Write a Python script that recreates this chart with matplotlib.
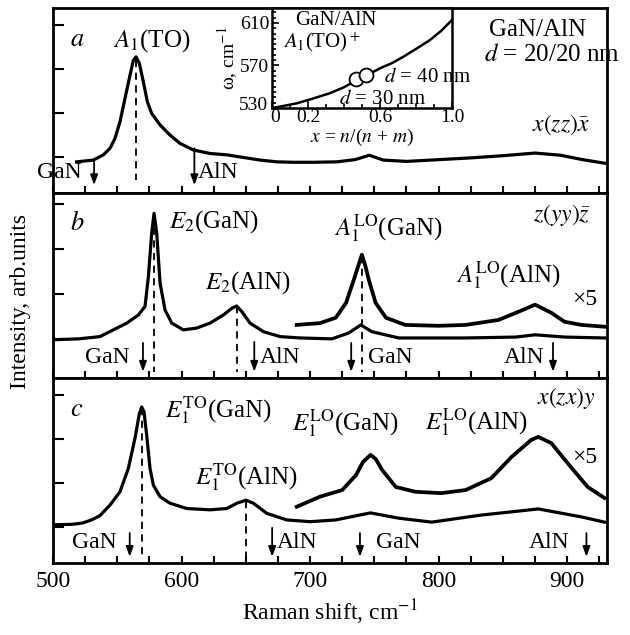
import matplotlib
matplotlib.use("Agg")
import matplotlib.pyplot as plt
from matplotlib.ticker import MultipleLocator, FixedLocator, NullFormatter
from matplotlib.transforms import ScaledTranslation

plt.rcParams["font.family"] = ["Liberation Serif", "DejaVu Serif"]
plt.rcParams["mathtext.fontset"] = "stix"

# ---- data (Raman shift, cm-1 / intensity, arb. units) ----
a_shift = [518.4, 531.4, 539.2, 544.4, 548.2, 552.1, 556, 559.9, 562.5, 564.6,
           567.2, 570.3, 573.4, 576.8, 583.3, 591, 598.8, 609.2, 622.2, 635.2,
           648.1, 661.1, 674.1, 687, 702.6, 720.8, 735, 746, 757, 775,
           800, 825, 850, 875, 895, 912, 929]
a_int = [-0.11, -0.07, 0.05, 0.20, 0.42, 0.80, 1.33, 1.86, 2.20, 2.28,
         2.13, 1.71, 1.26, 0.99, 0.73, 0.50, 0.31, 0.16, 0.08, 0.05,
         -0.01, -0.07, -0.11, -0.12, -0.12, -0.11, -0.06, 0.04, -0.07, -0.10,
         -0.06, -0.02, 0.03, 0.09, 0.04, -0.06, -0.14]

b_shift = [500, 520, 536.6, 546.9, 557.4, 566.4, 571.6, 574.2, 576.8, 578.6,
           580.7, 583.3, 587.2, 592.4, 601.4, 611.8, 622.2, 632.5, 639.1, 642.9,
           646.8, 653.3, 663.7, 676.7, 692.2, 717, 730, 739.5, 748, 769,
           821, 860, 875, 898, 929]
b_int = [-0.02, 0.00, 0.05, 0.20, 0.35, 0.53, 0.72, 1.38, 2.35, 2.79,
         2.35, 1.24, 0.64, 0.35, 0.20, 0.24, 0.35, 0.53, 0.68, 0.73,
         0.61, 0.35, 0.16, 0.05, 0.02, 0.00, 0.13, 0.31, 0.16, 0.02,
         0.02, 0.04, 0.09, 0.04, 0.02]

b5_shift = [689.6, 707.8, 720, 728, 734, 737.5, 740.3, 743, 745.7, 751,
            759, 774, 800, 821, 846.5, 862, 875, 887.6, 898, 911, 929]
b5_int = [0.31, 0.35, 0.47, 0.80, 1.31, 1.62, 1.87, 1.62, 1.31, 0.80,
          0.47, 0.31, 0.29, 0.31, 0.42, 0.60, 0.76, 0.58, 0.38, 0.31, 0.27]

c_shift = [501.5, 515, 523, 530, 536.6, 544.4, 552.1, 558.6, 563.8, 567.2,
           569, 570.8, 572.9, 575.5, 578.1, 583.3, 591, 604, 622.2, 635.2,
           643, 650.2, 655.9, 666.3, 681.9, 700, 720, 735, 747, 769,
           794.6, 833, 877.5, 911, 929]
c_int = [0.05, 0.06, 0.09, 0.16, 0.26, 0.50, 0.80, 1.33, 2.02, 2.58,
         2.73, 2.62, 2.09, 1.33, 0.95, 0.69, 0.54, 0.42, 0.39, 0.42,
         0.54, 0.61, 0.54, 0.31, 0.16, 0.12, 0.16, 0.25, 0.32, 0.20,
         0.11, 0.27, 0.41, 0.23, 0.11]

c5_shift = [689.6, 707.8, 725, 735.7, 741.2, 747, 751, 756, 766.7, 782,
            802, 821, 841, 856.6, 872, 877.5, 887.6, 903, 916, 929]
c5_int = [0.46, 0.69, 0.84, 1.18, 1.48, 1.64, 1.55, 1.30, 0.91, 0.80,
          0.77, 0.84, 1.11, 1.59, 1.98, 2.05, 1.91, 1.36, 0.91, 0.66]

# inset: A1(TO)+ frequency vs x = n/(n+m)
ins_x = [0.0, 0.05, 0.138, 0.22, 0.32, 0.40, 0.47, 0.53, 0.60, 0.67,
         0.73, 0.80, 0.878, 0.94, 1.0]
ins_w = [530, 531.5, 534.4, 538.5, 543.8, 549.5, 556.3, 561.0, 567.3, 572.5,
         578.2, 585.5, 593.9, 602.5, 612.7]
pts_x = [0.467, 0.522]
pts_w = [557.3, 561.0]

FS = 17
LW = 2.3


def style_panel(ax, ylim, labels=False):
    ax.set_xlim(500, 931)
    ax.set_ylim(*ylim)
    ax.xaxis.set_major_locator(MultipleLocator(100))
    ax.xaxis.set_minor_locator(MultipleLocator(25))
    ax.yaxis.set_major_locator(FixedLocator([0, 1, 2, 3]))
    ax.tick_params(axis="x", which="both", direction="in", length=5, width=1.5,
                   top=False, labelsize=FS, pad=6)
    ax.tick_params(axis="y", direction="in", length=8, width=1.5, right=False,
                   labelleft=False)
    if not labels:
        ax.xaxis.set_major_formatter(NullFormatter())
    for sp in ax.spines.values():
        sp.set_linewidth(2)


def dash(ax, x, y0, y1):
    ax.plot([x, x], [y0, y1], color="k", lw=1.3, ls=(0, (4, 3)))


def arrow(ax, x, y0, y1):
    ax.annotate("", xy=(x, y1), xytext=(x, y0),
                arrowprops=dict(arrowstyle="-|>,head_length=0.6,head_width=0.22",
                                color="k", lw=1.3, shrinkA=0, shrinkB=0))


fig = plt.figure(figsize=(6.3, 6.35), dpi=100)
L, W, H = 0.0841, 0.8794, 0.2913
ax_a = fig.add_axes([L, 0.696, W, H])
ax_b = fig.add_axes([L, 0.4047, W, H])
ax_c = fig.add_axes([L, 0.1134, W, H])

# ---- panel a ----
style_panel(ax_a, (-0.82, 3.39))
ax_a.plot(a_shift, a_int, color="k", lw=LW, solid_joinstyle="round")
dash(ax_a, 564.6, 2.2, -0.52)
arrow(ax_a, 532, -0.11, -0.64)
arrow(ax_a, 610, 0.20, -0.64)
ax_a.text(505, -0.36, "GaN", fontsize=FS, ha="center", va="center")
ax_a.text(613, -0.36, "AlN", fontsize=FS, ha="left", va="center")
ax_a.text(518.6, 2.66, "$a$", fontsize=FS + 2, ha="center", va="center")
ax_a.text(577, 2.66, "$A_1$(TO)", fontsize=FS + 1, ha="center", va="center")
ax_a.text(876.6, 2.89, "GaN/AlN", fontsize=FS + 1, ha="center", va="center")
ax_a.text(888, 2.32, "$d$ = 20/20 nm", fontsize=FS + 1, ha="center", va="center")
ax_a.text(895, 0.73, r"$x(zz)\bar{x}$", fontsize=FS, ha="center", va="center")

# ---- panel b ----
style_panel(ax_b, (-0.87, 3.24))
ax_b.plot(b_shift, b_int, color="k", lw=LW, solid_joinstyle="round")
ax_b.plot(b5_shift, b5_int, color="k", lw=LW + 0.4, solid_joinstyle="round")
dash(ax_b, 578.6, 2.75, -0.73)
dash(ax_b, 642.9, 0.72, -0.73)
dash(ax_b, 740.3, 1.85, -0.73)
arrow(ax_b, 570, -0.09, -0.73)
arrow(ax_b, 656.6, -0.07, -0.73)
arrow(ax_b, 732, -0.09, -0.73)
arrow(ax_b, 889, -0.09, -0.73)
ax_b.text(542, -0.42, "GaN", fontsize=FS, ha="center", va="center")
ax_b.text(661, -0.42, "AlN", fontsize=FS, ha="left", va="center")
ax_b.text(745, -0.42, "GaN", fontsize=FS, ha="left", va="center")
ax_b.text(882, -0.42, "AlN", fontsize=FS, ha="right", va="center")
ax_b.text(518.6, 2.58, "$b$", fontsize=FS + 2, ha="center", va="center")
ax_b.text(625.6, 2.6, "$E_2$(GaN)", fontsize=FS + 1, ha="center", va="center")
ax_b.text(651.5, 1.24, "$E_2$(AlN)", fontsize=FS + 1, ha="center", va="center")
ax_b.text(761, 2.47, r"$A_1^{\rm LO}$(GaN)", fontsize=FS + 1, ha="center", va="center")
ax_b.text(854.5, 1.42, r"$A_1^{\rm LO}$(AlN)", fontsize=FS + 1, ha="center", va="center")
ax_b.text(914, 0.87, "×5", fontsize=FS, ha="center", va="center")
ax_b.text(896, 2.76, r"$z(yy)\bar{z}$", fontsize=FS, ha="center", va="center")

# ---- panel c ----
style_panel(ax_c, (-0.82, 3.39), labels=True)
ax_c.plot(c_shift, c_int, color="k", lw=LW, solid_joinstyle="round")
ax_c.plot(c5_shift, c5_int, color="k", lw=LW + 0.4, solid_joinstyle="round")
dash(ax_c, 569, 2.70, -0.68)
dash(ax_c, 650.2, 0.60, -0.68)
arrow(ax_c, 559.7, -0.14, -0.68)
arrow(ax_c, 670.5, -0.02, -0.68)
arrow(ax_c, 738.8, -0.14, -0.68)
arrow(ax_c, 915, -0.14, -0.68)
ax_c.text(532, -0.36, "GaN", fontsize=FS, ha="center", va="center")
ax_c.text(674, -0.36, "AlN", fontsize=FS, ha="left", va="center")
ax_c.text(751, -0.36, "GaN", fontsize=FS, ha="left", va="center")
ax_c.text(902, -0.36, "AlN", fontsize=FS, ha="right", va="center")
ax_c.text(518.6, 2.66, "$c$", fontsize=FS + 2, ha="center", va="center")
ax_c.text(629, 2.66, r"$E_1^{\rm TO}$(GaN)", fontsize=FS + 1, ha="center", va="center")
ax_c.text(650.8, 1.14, r"$E_1^{\rm TO}$(AlN)", fontsize=FS + 1, ha="center", va="center")
ax_c.text(727.5, 2.36, r"$E_1^{\rm LO}$(GaN)", fontsize=FS + 1, ha="center", va="center")
ax_c.text(829.5, 2.39, r"$E_1^{\rm LO}$(AlN)", fontsize=FS + 1, ha="center", va="center")
ax_c.text(914, 1.59, "×5", fontsize=FS, ha="center", va="center")
ax_c.text(899, 2.93, "$x(zx)y$", fontsize=FS, ha="center", va="center")
ax_c.set_xlabel(r"Raman shift, cm$^{-1}$", fontsize=FS, labelpad=4)

fig.text(0.032, 0.525, "Intensity, arb.units", fontsize=FS, rotation=90,
         ha="center", va="center")

# ---- inset ----
ins = fig.add_axes([0.4317, 0.8299, 0.2857, 0.1575])
ins.plot(ins_x, ins_w, color="k", lw=1.8)
ins.plot(pts_x, pts_w, "o", ms=10, mfc="white", mec="k", mew=1.3)
ins.set_xlim(0, 1.0)
ins.set_ylim(530, 624)
ins.xaxis.set_major_locator(FixedLocator([0, 0.2, 0.6, 1.0]))
ins.xaxis.set_minor_locator(MultipleLocator(0.1))
ins.set_xticklabels(["0", "0.2", "0.6", "1.0"])
ins.yaxis.set_major_locator(FixedLocator([530, 570, 610]))
ins.yaxis.set_minor_locator(MultipleLocator(5))
ins.tick_params(which="both", direction="in", labelsize=14, width=1.2)
ins.tick_params(axis="x", pad=1)
ins.tick_params(axis="y", pad=2)
ins.tick_params(which="major", length=5)
ins.tick_params(which="minor", length=3)
for sp in ins.spines.values():
    sp.set_linewidth(1.8)

# nudge the corner labels "530" and "0" apart a little
lab530 = ins.get_yticklabels()[0]
lab530.set_transform(lab530.get_transform()
                     + ScaledTranslation(-1 / 72, 3 / 72, fig.dpi_scale_trans))
lab0 = ins.get_xticklabels()[0]
lab0.set_transform(lab0.get_transform()
                   + ScaledTranslation(2 / 72, 0, fig.dpi_scale_trans))

ins.set_xlabel("$x$ = $n$/($n$ + $m$)", fontsize=14, labelpad=0)
ins.set_ylabel(r"ω, cm$^{-1}$", fontsize=14, labelpad=-1)
ins.text(0.13, 612, "GaN/AlN", fontsize=15, ha="left", va="center")
ins.text(0.06, 592, "$A_1$(TO)$^+$", fontsize=15, ha="left", va="center")
ins.text(0.62, 559, "$d$ = 40 nm", fontsize=15, ha="left", va="center")
ins.text(0.37, 538, "$d$ = 30 nm", fontsize=15, ha="left", va="center")

fig.savefig("out.png", dpi=100)
